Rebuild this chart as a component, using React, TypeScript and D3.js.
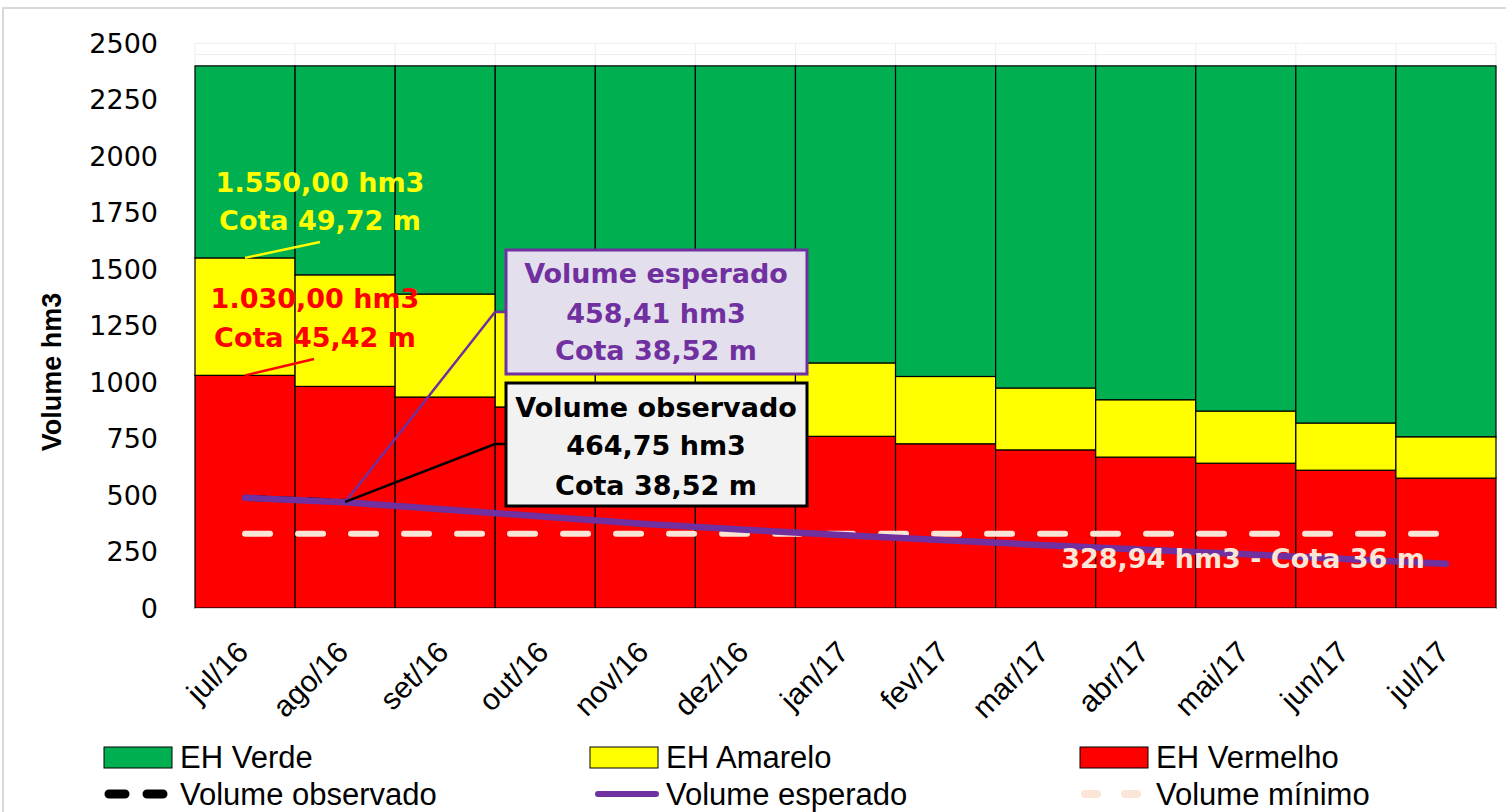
import React, { useEffect, useRef } from 'react'
import * as d3 from 'd3'

const meses = ['jul/16', 'ago/16', 'set/16', 'out/16', 'nov/16', 'dez/16', 'jan/17', 'fev/17', 'mar/17', 'abr/17', 'mai/17', 'jun/17', 'jul/17']
// faixas empilhadas (hm3)
const ehVermelho = [1030, 981, 934, 890, 848, 805, 760, 727, 700, 668, 641, 610, 575]
const ehAmarelo = [520, 494, 456, 423, 389, 356, 325, 298, 274, 254, 231, 209, 183]
const ehVerde = [850, 925, 1010, 1087, 1163, 1239, 1315, 1375, 1426, 1478, 1528, 1581, 1642]
const volObservado = [488, 470]
const volEsperado = [488, 468, 436, 404, 372, 346, 322, 300, 278, 258, 238, 217, 196]
const volMinimo = meses.map(() => 328.94)
const yTicks = [0, 250, 500, 750, 1000, 1250, 1500, 1750, 2000, 2250, 2500]

const W = 1506
const H = 812
const COR = { verde: '#00B050', amarelo: '#FFFF00', vermelho: '#FF0000', roxo: '#7030A0', minimo: '#FBE5D6' }
const BOLD = '"DejaVu Sans", sans-serif'
const LEG = '"Liberation Sans", Arial, sans-serif'

export default function App() {
  const ref = useRef<SVGSVGElement>(null)

  useEffect(() => {
    const svg = d3.select(ref.current)
    svg.selectAll('*').remove()

    const x = d3.scaleBand().domain(meses).range([195, 1496]).padding(0)
    const y = d3.scaleLinear().domain([0, 2500]).range([608, 43.3])
    const cx = (m: string) => (x(m) as number) + x.bandwidth() / 2

    // moldura
    svg.append('rect').attr('x', 3).attr('y', 8).attr('width', W + 10).attr('height', H + 10)
      .attr('fill', '#fff').attr('stroke', '#D9D9D9').attr('stroke-width', 2)

    // grade
    const grid = svg.append('g').attr('stroke', '#EDEDED').attr('stroke-width', 1)
    grid.selectAll('line.h').data(d3.range(0, 2501, 50)).join('line')
      .attr('x1', 195).attr('x2', 1496).attr('y1', d => y(d)).attr('y2', d => y(d))
    grid.selectAll('line.v').data(meses.concat(['_fim'])).join('line')
      .attr('x1', (d, i) => 195 + i * x.bandwidth()).attr('x2', (d, i) => 195 + i * x.bandwidth())
      .attr('y1', y(2500)).attr('y2', y(0))

    // barras empilhadas
    const tabela = meses.map((m, i) => ({ mes: m, vermelho: ehVermelho[i], amarelo: ehAmarelo[i], verde: ehVerde[i] }))
    const series = d3.stack<any>().keys(['vermelho', 'amarelo', 'verde'])(tabela)
    svg.append('g').selectAll('g').data(series).join('g')
      .attr('fill', d => (COR as any)[d.key])
      .selectAll('rect').data(d => d).join('rect')
      .attr('x', d => x(d.data.mes) as number)
      .attr('width', x.bandwidth())
      .attr('y', d => y(d[1]))
      .attr('height', d => y(d[0]) - y(d[1]))
      .attr('stroke', '#000').attr('stroke-width', 1.2)

    svg.append('line').attr('x1', 195).attr('x2', 1496).attr('y1', y(0) + 0.5).attr('y2', y(0) + 0.5)
      .attr('stroke', '#D9D9D9').attr('stroke-width', 1)

    // eixo y
    svg.append('g').selectAll('text').data(yTicks).join('text')
      .attr('x', 158).attr('y', d => y(d)).attr('dy', '0.36em')
      .attr('text-anchor', 'end').attr('font-family', BOLD).attr('font-size', 27).attr('fill', '#000')
      .text(d => d)
    svg.append('text').attr('transform', 'translate(61,372) rotate(-90)')
      .attr('text-anchor', 'middle').attr('font-family', LEG).attr('font-weight', 'bold').attr('font-size', 27)
      .text('Volume hm3')

    // eixo x
    svg.append('g').selectAll('text').data(meses).join('text')
      .attr('transform', d => `translate(${cx(d) + 5},654) rotate(-45)`)
      .attr('text-anchor', 'end').attr('font-family', LEG).attr('font-size', 30).attr('fill', '#000')
      .text(d => d)

    // linhas
    const linha = d3.line<number>().x((d, i) => cx(meses[i])).y(d => y(d))
    svg.append('path').attr('d', linha(volMinimo)).attr('fill', 'none')
      .attr('stroke', COR.minimo).attr('stroke-width', 6).attr('stroke-dasharray', '25,28').attr('stroke-linecap', 'round')
    svg.append('path').attr('d', linha(volObservado)).attr('fill', 'none')
      .attr('stroke', '#000').attr('stroke-width', 6).attr('stroke-dasharray', '20,12').attr('stroke-linecap', 'round')
    svg.append('path').attr('d', linha(volEsperado)).attr('fill', 'none')
      .attr('stroke', COR.roxo).attr('stroke-width', 6.5).attr('stroke-linecap', 'round')

    // rótulos de chamada
    const x0 = cx(meses[0])
    const x1 = cx(meses[1])
    svg.append('line').attr('x1', 320).attr('y1', 242).attr('x2', x0).attr('y2', y(1550))
      .attr('stroke', COR.amarelo).attr('stroke-width', 2.5)
    svg.append('line').attr('x1', 314).attr('y1', 359).attr('x2', x0).attr('y2', y(1030))
      .attr('stroke', COR.vermelho).attr('stroke-width', 2.5)
    svg.append('path').attr('d', `M${x1},${y(volEsperado[1])}L495,312L507,312`).attr('fill', 'none')
      .attr('stroke', COR.roxo).attr('stroke-width', 2.5)
    svg.append('path').attr('d', `M${x1},${y(volObservado[1])}L495,444L507,444`).attr('fill', 'none')
      .attr('stroke', '#000').attr('stroke-width', 2.5)

    svg.append('rect').attr('x', 506).attr('y', 250).attr('width', 301).attr('height', 124)
      .attr('fill', '#E4DFEC').attr('stroke', COR.roxo).attr('stroke-width', 3)
    svg.append('rect').attr('x', 506).attr('y', 383).attr('width', 301).attr('height', 123)
      .attr('fill', '#F2F2F2').attr('stroke', '#000').attr('stroke-width', 3)

    const bloco = (linhas: string[], px: number, py: number[], cor: string) => {
      linhas.forEach((t, i) => {
        svg.append('text').attr('x', px).attr('y', py[i]).attr('dy', '0.36em')
          .attr('text-anchor', 'middle').attr('font-family', BOLD).attr('font-weight', 'bold')
          .attr('font-size', 27).attr('fill', cor).text(t)
      })
    }
    bloco(['1.550,00 hm3', 'Cota 49,72 m'], 320, [182, 220], COR.amarelo)
    bloco(['1.030,00 hm3', 'Cota 45,42 m'], 315, [298, 337], COR.vermelho)
    bloco(['Volume esperado', '458,41 hm3', 'Cota 38,52 m'], 656, [273, 313, 350], COR.roxo)
    bloco(['Volume observado', '464,75 hm3', 'Cota 38,52 m'], 656, [407, 445, 485], '#000')
    bloco(['328,94 hm3 - Cota 36 m'], 1243, [558], COR.minimo)

    // legenda
    const leg = svg.append('g')
    const itens = [
      { nome: 'EH Verde', cor: COR.verde, lx: 104, ly: 757, tipo: 'box' },
      { nome: 'EH Amarelo', cor: COR.amarelo, lx: 590, ly: 757, tipo: 'box' },
      { nome: 'EH Vermelho', cor: COR.vermelho, lx: 1080, ly: 757, tipo: 'box' },
      { nome: 'Volume observado', cor: '#000', lx: 104, ly: 794, tipo: 'obs' },
      { nome: 'Volume esperado', cor: COR.roxo, lx: 590, ly: 794, tipo: 'esp' },
      { nome: 'Volume mínimo', cor: COR.minimo, lx: 1080, ly: 794, tipo: 'min' },
    ]
    itens.forEach(it => {
      if (it.tipo === 'box') {
        leg.append('rect').attr('x', it.lx).attr('y', it.ly - 10).attr('width', 68).attr('height', 21)
          .attr('fill', it.cor).attr('stroke', '#000').attr('stroke-width', 1)
      } else {
        const l = leg.append('line').attr('x1', it.lx + 5).attr('x2', it.lx + 63).attr('y1', it.ly).attr('y2', it.ly)
          .attr('stroke', it.cor).attr('stroke-linecap', 'round')
        if (it.tipo === 'obs') l.attr('stroke-width', 9).attr('stroke-dasharray', '16,22')
        if (it.tipo === 'esp') l.attr('x1', it.lx + 8).attr('x2', it.lx + 66).attr('stroke-width', 6)
        if (it.tipo === 'min') l.attr('stroke-width', 8).attr('stroke-dasharray', '12,28')
      }
      leg.append('text').attr('x', it.lx + 76).attr('y', it.ly).attr('dy', '0.34em')
        .attr('font-family', LEG).attr('font-size', 31).attr('fill', '#000').text(it.nome)
    })
  }, [])

  return <svg ref={ref} width={W} height={H} style={{ position: 'absolute', left: 0, top: 0, background: '#fff' }} />
}
